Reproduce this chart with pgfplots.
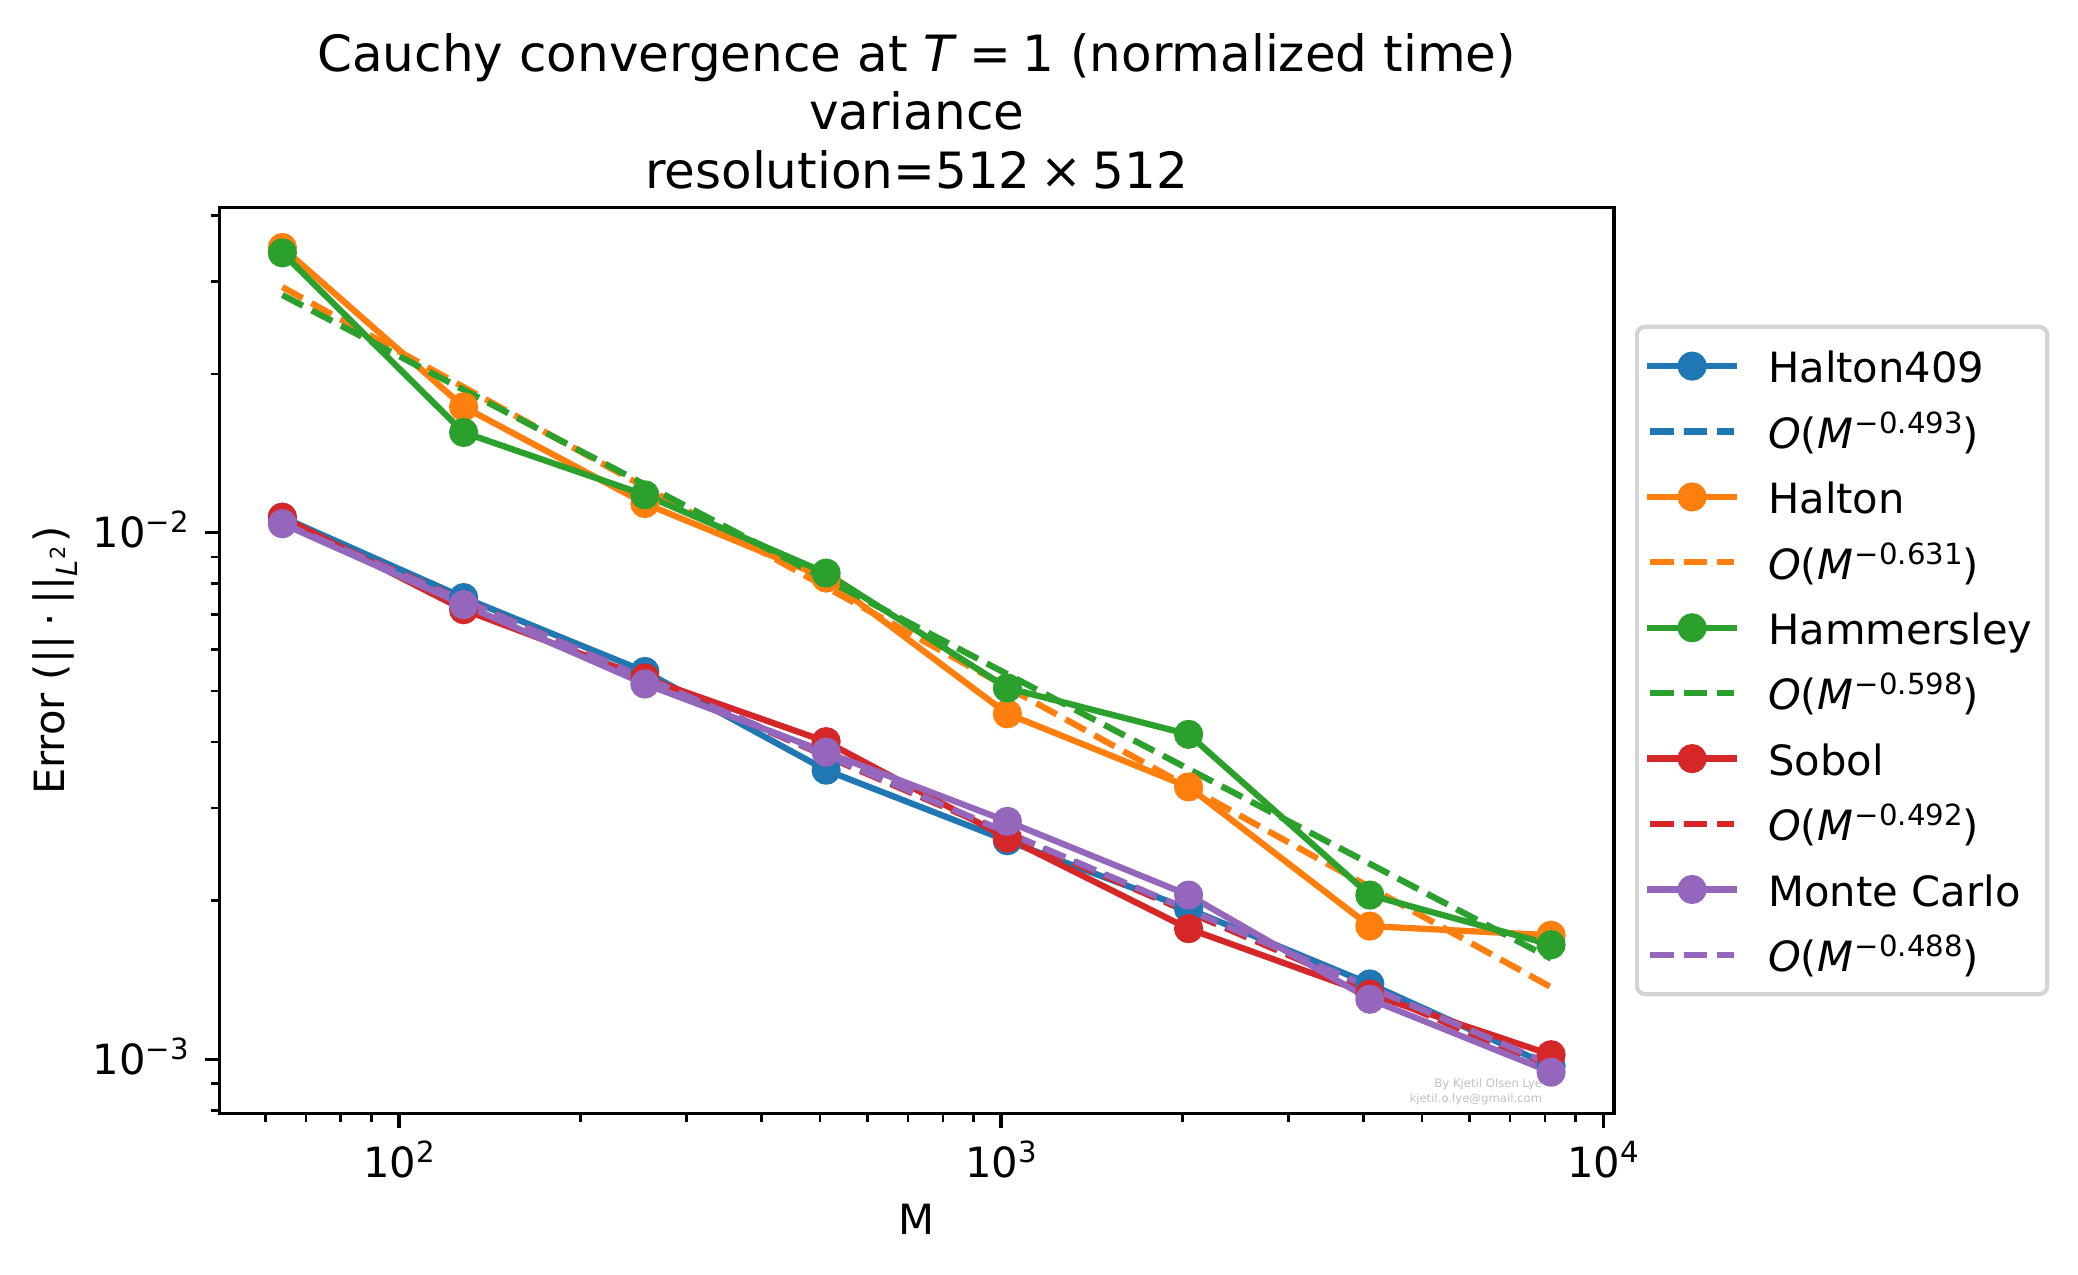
\documentclass[border=0pt]{standalone}
\usepackage{fontspec}
\setmainfont{DejaVu Sans}
\usepackage{pgfplots}
\pgfplotsset{compat=1.18}
\definecolor{cA}{HTML}{1F77B4}
\definecolor{cB}{HTML}{FF7F0E}
\definecolor{cC}{HTML}{2CA02C}
\definecolor{cD}{HTML}{D62728}
\definecolor{cE}{HTML}{9467BD}
\newcommand{\sups}[1]{\raisebox{3.6pt}{\fontsize{7}{7}\selectfont #1}}
\newcommand{\fitlab}[1]{\textit{O}(\textit{M}\kern0.4pt\sups{#1})}
\begin{document}
\begin{tikzpicture}[font=\fontsize{10}{12}\selectfont]
\useasboundingbox (0,0) rectangle (498.72pt,305.76pt);
\begin{axis}[
  at={(52.65pt,38.6pt)}, anchor=south west,
  scale only axis, width=334.7pt, height=217.3pt,
  xmode=log, ymode=log,
  xmin=50.3, xmax=10420, ymin=7.9e-4, ymax=0.0414,
  axis line style={line width=0.8pt},
  tick align=outside, tick pos=left,
  major tick length=3.5pt, minor tick length=2pt,
  major tick style={line width=0.8pt, black},
  minor tick style={line width=0.6pt, black},
  xtick={100,1000,10000},
  xticklabels={10\sups{2},10\sups{3},10\sups{4}},
  minor xtick={60,70,80,90,200,300,400,500,600,700,800,900,2000,3000,4000,5000,6000,7000,8000,9000},
  ytick={0.001,0.01},
  yticklabels={10\sups{−3},10\sups{−2}},
  minor ytick={0.0008,0.0009,0.002,0.003,0.004,0.005,0.006,0.007,0.008,0.009,0.02,0.03,0.04},
  xticklabel style={anchor=base, inner sep=0pt, yshift=-11.9pt},
  yticklabel style={anchor=base east, inner sep=0pt, xshift=-3.7pt, yshift=-3.64pt},
  xlabel={M},
  xlabel style={at={(axis description cs:0.5,-0.1335)}, anchor=base, inner sep=0pt},
  ylabel={Error (||\kern2.2pt·\kern2.2pt||\textsubscript{\textit{L}\textsuperscript{2}})},
  ylabel style={at={(axis description cs:-0.1114,0.5)}, anchor=base, inner sep=0pt},
  every axis title shift=0pt,
  title={Cauchy convergence at \textit{T}\kern2.8pt=\kern2.8pt1 (normalized time)\\variance\\resolution=512\kern2.4pt×\kern2.4pt512},
  title style={at={(axis description cs:0.5,1.0198)}, anchor=south, inner sep=0pt, align=center, font=\fontsize{12}{14}\selectfont},
  legend style={at={(1,0.5)}, anchor=west, xshift=5pt, draw=black!17, line width=1pt, rounded corners=2pt, fill=white, inner xsep=2.5pt, inner ysep=4.1pt, row sep=5pt, column sep=7.5pt, font=\fontsize{10}{12}\selectfont, nodes={inner sep=0pt, text height=9.35pt, text depth=1.35pt, text width=64.5pt, align=left, anchor=west}},
  legend cell align=left,
  legend image code/.code={\draw[mark repeat=2,mark phase=2] plot coordinates {(0pt,0pt) (10pt,0pt) (20pt,0pt)};},
  every axis plot/.append style={line width=1.5pt, line join=round},
  dat/.style={mark=*, mark size=3pt, line cap=rect, mark options={solid, line width=1pt}},
  fit/.style={dash pattern=on 5.55pt off 2.4pt},
]
\node[anchor=base east, inner sep=0pt, font=\fontsize{2.8}{3.4}\selectfont, text=black!25] at (axis description cs:0.9491,0.0279) {By Kjetil Olsen Lye};
\node[anchor=base east, inner sep=0pt, font=\fontsize{2.8}{3.4}\selectfont, text=black!25] at (axis description cs:0.9491,0.0114) {kjetil.o.lye@gmail.com};

\addplot[cA, dat] coordinates {(64,0.0107) (128,0.00753) (256,0.00545) (512,0.00354) (1024,0.0026) (2048,0.00193) (4096,0.00139) (8192,0.00097)};
\addlegendentry{Halton409}
\addplot[cA, fit] coordinates {(64,0.01052) (8192,0.000963)};
\addlegendentry{\fitlab{−0.493}}
\addplot[cB, dat] coordinates {(64,0.0348) (128,0.01734) (256,0.01136) (512,0.0082) (1024,0.00453) (2048,0.00329) (4096,0.00179) (8192,0.00172)};
\addlegendentry{Halton}
\addplot[cB, fit] coordinates {(64,0.02927) (8192,0.00137)};
\addlegendentry{\fitlab{−0.631}}
\addplot[cC, dat] coordinates {(64,0.0340) (128,0.0155) (256,0.0118) (512,0.00838) (1024,0.00507) (2048,0.00414) (4096,0.00205) (8192,0.00165)};
\addlegendentry{Hammersley}
\addplot[cC, fit] coordinates {(64,0.02827) (8192,0.001553)};
\addlegendentry{\fitlab{−0.598}}
\addplot[cD, dat] coordinates {(64,0.0107) (128,0.00714) (256,0.0053) (512,0.00401) (1024,0.00263) (2048,0.00177) (4096,0.00133) (8192,0.00102)};
\addlegendentry{Sobol}
\addplot[cD, fit] coordinates {(64,0.01047) (8192,0.000962)};
\addlegendentry{\fitlab{−0.492}}
\addplot[cE, dat] coordinates {(64,0.0104) (128,0.0073) (256,0.00516) (512,0.00383) (1024,0.00283) (2048,0.00205) (4096,0.0013) (8192,0.000945)};
\addlegendentry{Monte Carlo}
\addplot[cE, fit] coordinates {(64,0.01042) (8192,0.000977)};
\addlegendentry{\fitlab{−0.488}}
\end{axis}
\end{tikzpicture}
\end{document}
